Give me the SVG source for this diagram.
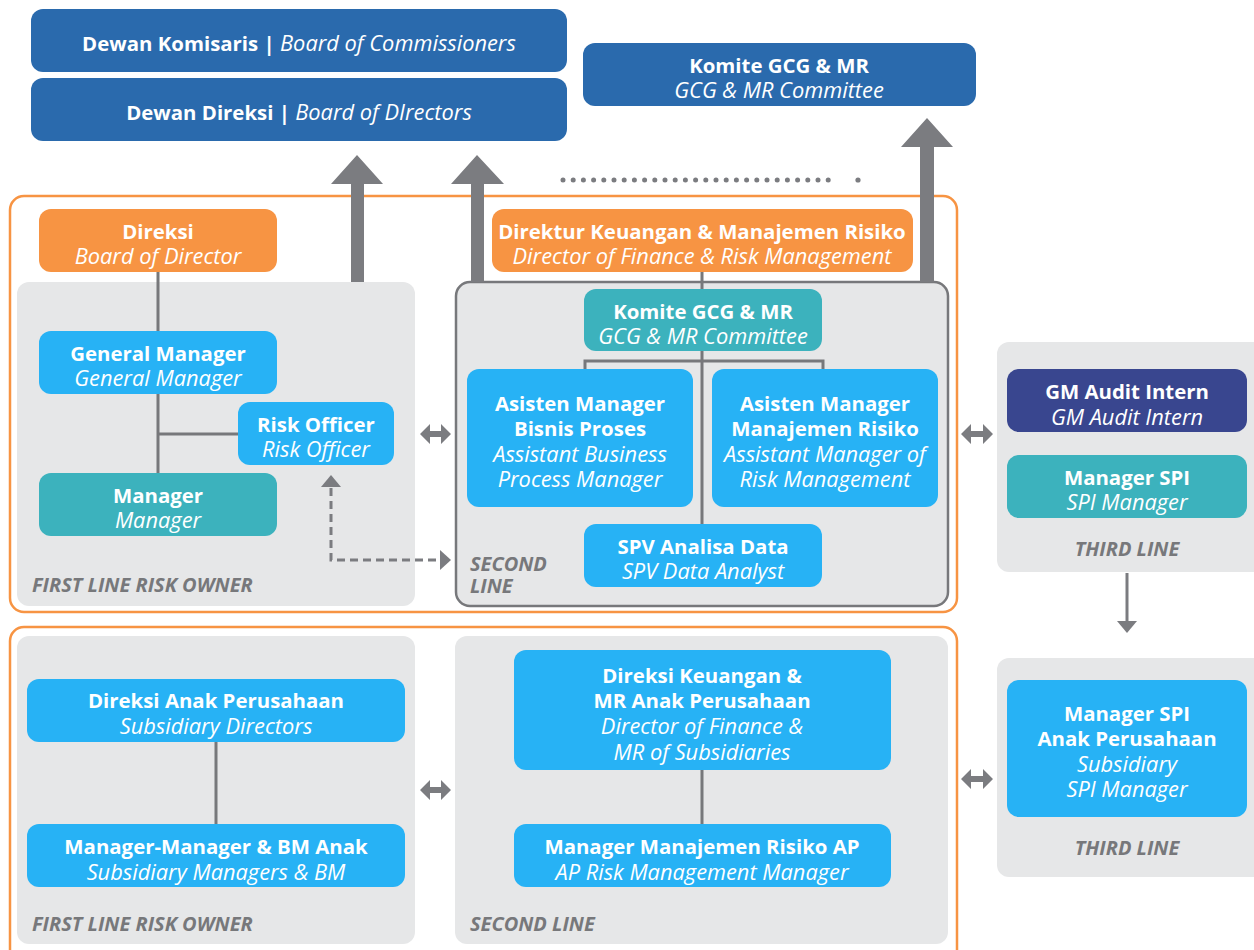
<svg xmlns="http://www.w3.org/2000/svg" width="1254" height="950" viewBox="0 0 1254 950">
<style>
text{font-family:"Open Sans","Noto Sans","DejaVu Sans",sans-serif;text-anchor:middle;fill:#fff}
.b{font-weight:700;font-size:20.4px}
.i{font-style:italic;font-weight:400;font-size:21.8px}
.lbl{font-weight:700;font-style:italic;font-size:20px;fill:#77787b;text-anchor:start}
.lblc{font-weight:700;font-style:italic;font-size:20px;fill:#77787b}
.navy{fill:#2a6aad}
.org{fill:#f79443}
.sky{fill:#27b2f5}
.teal{fill:#3cb2bd}
.dk{fill:#39468f}
.panel{fill:#e6e7e8}
.frame{fill:none;stroke:#f79443;stroke-width:2.5}
.ln{stroke:#77787b;stroke-width:3;fill:none}
.arr{fill:#7b7c80}
</style>

<g id="frames">
<rect class="frame" x="10" y="196" width="947" height="416" rx="14"/>
<rect class="frame" x="10" y="627" width="947" height="340" rx="14"/>
<rect class="panel" x="17" y="282" width="398" height="324" rx="12"/>
<rect class="panel" x="456" y="282" width="492" height="324" rx="14" stroke="#77787b" stroke-width="2.5"/>
<rect class="panel" x="997" y="342" width="270" height="230" rx="12"/>
<rect class="panel" x="17" y="636" width="398" height="308" rx="12"/>
<rect class="panel" x="455" y="636" width="493" height="308" rx="12"/>
<rect class="panel" x="997" y="658" width="270" height="219" rx="12"/>
<text class="lbl" x="32" y="592">FIRST LINE RISK OWNER</text>
<text class="lbl" x="470" y="571">SECOND</text>
<text class="lbl" x="470" y="593">LINE</text>
<text class="lblc" x="1127" y="556">THIRD LINE</text>
<text class="lbl" x="32" y="931">FIRST LINE RISK OWNER</text>
<text class="lbl" x="470" y="931">SECOND LINE</text>
<text class="lblc" x="1127" y="855">THIRD LINE</text>
</g>

<g id="connectors">
<path class="ln" d="M158,272 V473 M158,434 H238"/>
<path class="ln" d="M702,272 V289 M702,351 V524 M585,369 V361 H823 V369"/>
<path class="ln" d="M216,741 V824"/>
<path class="ln" d="M702,770 V824"/>
<path class="arr" d="M351,282 V184 H331 L357,155 L383,184 H364 V282 z"/>
<path class="arr" d="M471,282 V184 H451 L477,155 L504,184 H484 V282 z"/>
<path class="arr" d="M920,282 V147 H901 L927,118 L953,147 H934 V282 z"/>
<line x1="563" y1="180" x2="838" y2="180" stroke="#7b7c80" stroke-width="5" stroke-linecap="round" stroke-dasharray="0 10.2"/>
<circle cx="858" cy="180" r="2.6" fill="#7b7c80"/>
<path class="arr" d="M420,434 L430,424 V431 H441 V424 L451,434 L441,444 V437 H430 V444 z"/>
<path class="arr" d="M961,434 L971,424 V431 H983 V424 L993,434 L983,444 V437 H971 V444 z"/>
<path class="arr" d="M420,790 L430,780 V787 H441 V780 L451,790 L441,800 V793 H430 V800 z"/>
<path class="arr" d="M961,779 L971,769 V776 H983 V769 L993,779 L983,789 V782 H971 V789 z"/>
<path d="M331,488 V560 H441" fill="none" stroke="#7b7c80" stroke-width="3" stroke-dasharray="8 5"/>
<path class="arr" d="M321,487 L331,475 L341,487 z"/>
<path class="arr" d="M440,550 L451,560 L440,570 z"/>
<path d="M1127,573 V623" stroke="#7b7c80" stroke-width="3"/>
<path class="arr" d="M1117,621 L1137,621 L1127,633 z"/>
</g>

<g id="n-komisaris">
<rect class="navy" x="31" y="9" width="536" height="63" rx="12"/>
<text x="299" y="51"><tspan font-weight="700" font-size="20.4">Dewan Komisaris | </tspan><tspan font-style="italic" font-size="21.8">Board of Commissioners</tspan></text>
</g>
<g id="n-direksi-board">
<rect class="navy" x="31" y="78" width="536" height="63" rx="12"/>
<text x="299" y="120"><tspan font-weight="700" font-size="20.4">Dewan Direksi | </tspan><tspan font-style="italic" font-size="21.8">Board of DIrectors</tspan></text>
</g>
<g id="n-komite-top">
<rect class="navy" x="583" y="43" width="393" height="63" rx="12"/>
<text class="b" x="779" y="73">Komite GCG &amp; MR</text>
<text class="i" x="779" y="98">GCG &amp; MR Committee</text>
</g>

<g id="n-direksi">
<rect class="org" x="39" y="209" width="238" height="63" rx="12"/>
<text class="b" x="158" y="239">Direksi</text>
<text class="i" x="158" y="264">Board of Director</text>
</g>
<g id="n-direktur-keu">
<rect class="org" x="492" y="209" width="421" height="63" rx="12"/>
<text class="b" x="702" y="239">Direktur Keuangan &amp; Manajemen Risiko</text>
<text class="i" x="702" y="264">Director of Finance &amp; Risk Management</text>
</g>
<g id="n-gm">
<rect class="sky" x="39" y="331" width="238" height="63" rx="12"/>
<text class="b" x="158" y="361">General Manager</text>
<text class="i" x="158" y="386">General Manager</text>
</g>
<g id="n-risk-officer">
<rect class="sky" x="238" y="402" width="156" height="63" rx="12"/>
<text class="b" x="316" y="432">Risk Officer</text>
<text class="i" x="316" y="457">Risk Officer</text>
</g>
<g id="n-manager">
<rect class="teal" x="39" y="473" width="238" height="63" rx="12"/>
<text class="b" x="158" y="503">Manager</text>
<text class="i" x="158" y="528">Manager</text>
</g>
<g id="n-komite-mid">
<rect class="teal" x="584" y="289" width="238" height="62" rx="12"/>
<text class="b" x="703" y="319">Komite GCG &amp; MR</text>
<text class="i" x="703" y="344">GCG &amp; MR Committee</text>
</g>
<g id="n-asisten-bp">
<rect class="sky" x="467" y="369" width="226" height="138" rx="12"/>
<text class="b" x="580" y="411">Asisten Manager</text>
<text class="b" x="580" y="436">Bisnis Proses</text>
<text class="i" x="580" y="462">Assistant Business</text>
<text class="i" x="580" y="487">Process Manager</text>
</g>
<g id="n-asisten-mr">
<rect class="sky" x="712" y="369" width="226" height="138" rx="12"/>
<text class="b" x="825" y="411">Asisten Manager</text>
<text class="b" x="825" y="436">Manajemen Risiko</text>
<text class="i" x="825" y="462">Assistant Manager of</text>
<text class="i" x="825" y="487">Risk Management</text>
</g>
<g id="n-spv">
<rect class="sky" x="584" y="524" width="238" height="63" rx="12"/>
<text class="b" x="703" y="554">SPV Analisa Data</text>
<text class="i" x="703" y="579">SPV Data Analyst</text>
</g>
<g id="n-gm-audit">
<rect class="dk" x="1007" y="369" width="240" height="63" rx="12"/>
<text class="b" x="1127" y="399">GM Audit Intern</text>
<text class="i" x="1127" y="425">GM Audit Intern</text>
</g>
<g id="n-manager-spi">
<rect class="teal" x="1007" y="455" width="240" height="63" rx="12"/>
<text class="b" x="1127" y="485">Manager SPI</text>
<text class="i" x="1127" y="510">SPI Manager</text>
</g>

<g id="n-direksi-anak">
<rect class="sky" x="27" y="679" width="378" height="63" rx="12"/>
<text class="b" x="216" y="708">Direksi Anak Perusahaan</text>
<text class="i" x="216" y="734">Subsidiary Directors</text>
</g>
<g id="n-manager-anak">
<rect class="sky" x="27" y="824" width="378" height="63" rx="12"/>
<text class="b" x="216" y="854">Manager-Manager &amp; BM Anak</text>
<text class="i" x="216" y="880">Subsidiary Managers &amp; BM</text>
</g>
<g id="n-direksi-keu-anak">
<rect class="sky" x="514" y="650" width="377" height="120" rx="12"/>
<text class="b" x="702" y="683">Direksi Keuangan &amp;</text>
<text class="b" x="702" y="708">MR Anak Perusahaan</text>
<text class="i" x="702" y="734">Director of Finance &amp;</text>
<text class="i" x="702" y="760">MR of Subsidiaries</text>
</g>
<g id="n-manager-mr-ap">
<rect class="sky" x="514" y="824" width="377" height="63" rx="12"/>
<text class="b" x="702" y="854">Manager Manajemen Risiko AP</text>
<text class="i" x="702" y="880">AP Risk Management Manager</text>
</g>
<g id="n-spi-anak">
<rect class="sky" x="1007" y="680" width="240" height="137" rx="12"/>
<text class="b" x="1127" y="721">Manager SPI</text>
<text class="b" x="1127" y="746">Anak Perusahaan</text>
<text class="i" x="1127" y="772">Subsidiary</text>
<text class="i" x="1127" y="797">SPI Manager</text>
</g>
</svg>
